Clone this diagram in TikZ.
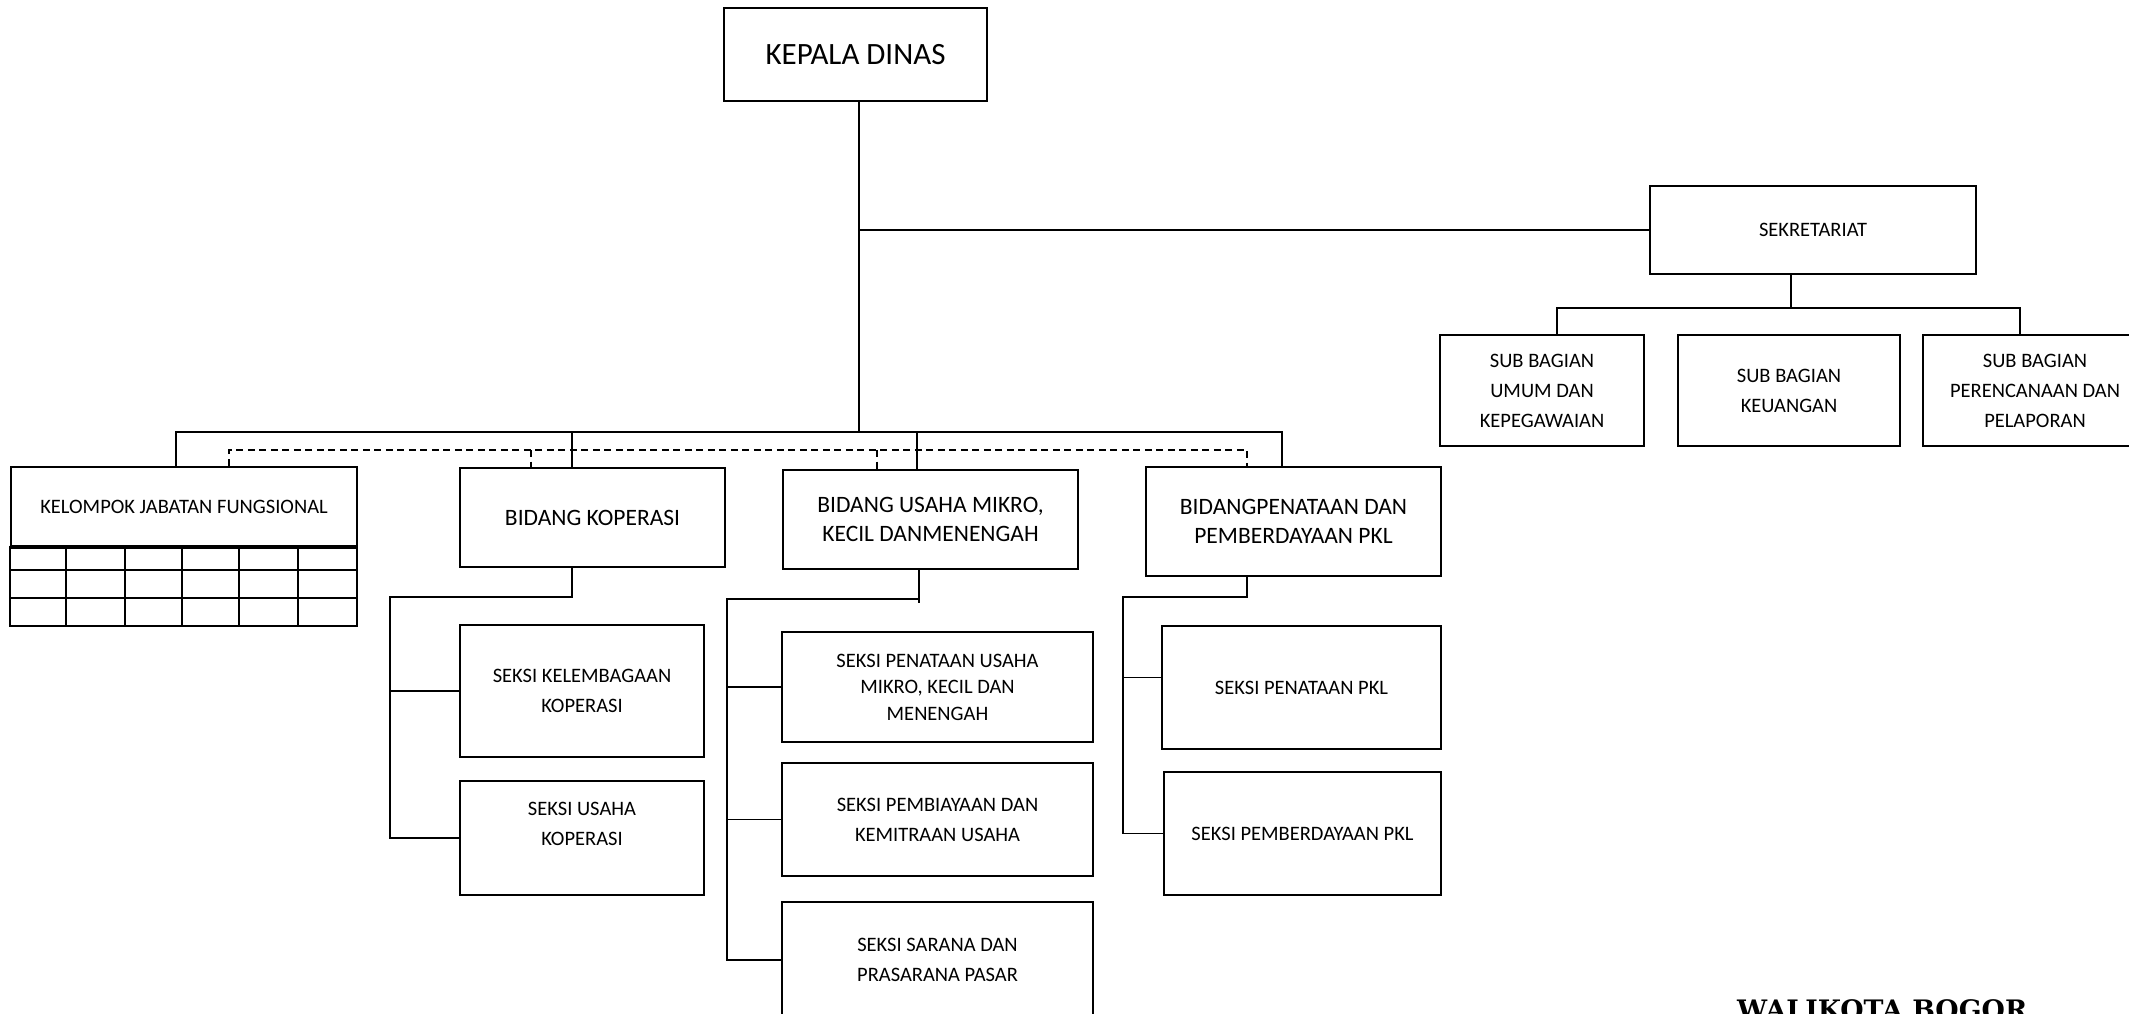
\documentclass[tikz,border=0pt]{standalone}
\usepackage{fontspec}
\setmainfont{Carlito}
\newfontfamily\walifont{DejaVu Serif}
\newcommand\fkd{\fontsize{31}{37}\selectfont}
\newcommand\fbid{\fontsize{23.5}{29}\selectfont}
\newcommand\fsek{\fontsize{20.5}{30}\selectfont}
\begin{document}
\begin{tikzpicture}[x=1pt,y=-1pt,
  box/.style={draw, line width=2.6pt, inner sep=0pt, align=center, font=\fsek},
  conn/.style={line width=1.8pt},
  dconn/.style={line width=2pt, dash pattern=on 7pt off 4.5pt},
  grid/.style={line width=1.8pt}]
\clip (0,0) rectangle (2129,1014);
\fill[white] (0,0) rectangle (2129,1014);

% top level
\node[box, font=\fkd, minimum width=263, minimum height=93] (kd) at (855.5,54.5) {KEPALA DINAS};
\node[box, minimum width=326, minimum height=88] (sek) at (1813,230) {SEKRETARIAT};
\node[box, minimum width=204, minimum height=111] (sbu) at (1542,390.5) {SUB BAGIAN\\UMUM DAN\\KEPEGAWAIAN};
\node[box, minimum width=222, minimum height=111] (sbk) at (1789,390.5) {SUB BAGIAN\\KEUANGAN};
\node[box, minimum width=224, minimum height=111] (sbp) at (2035,390.5) {SUB BAGIAN\\PERENCANAAN DAN\\PELAPORAN};

% second level
\node[box, minimum width=346, minimum height=79] (kjf) at (184,506.5) {KELOMPOK JABATAN FUNGSIONAL};
\node[box, font=\fbid, minimum width=265, minimum height=99] (bk) at (592.5,517.5) {BIDANG KOPERASI};
\node[box, font=\fbid, minimum width=295, minimum height=99] (bu) at (930.5,519.5) {BIDANG USAHA MIKRO,\\KECIL DANMENENGAH};
\node[box, font=\fbid, minimum width=295, minimum height=109] (bp) at (1293.5,521.5) {BIDANGPENATAAN DAN\\PEMBERDAYAAN PKL};

% seksi
\node[box, minimum width=244, minimum height=132] (skk) at (582,691) {SEKSI KELEMBAGAAN\\KOPERASI};
\node[box, minimum width=244, minimum height=114] (suk) at (582,838) {};
\node[align=center, font=\fsek, inner sep=0pt] (sukt) at (582,824) {SEKSI USAHA\\KOPERASI};
\node[box, font=\fontsize{20.5}{26.5}\selectfont, minimum width=311, minimum height=110] (spu) at (937.5,687) {SEKSI PENATAAN USAHA\\MIKRO, KECIL DAN\\MENENGAH};
\node[box, minimum width=311, minimum height=113] (spb) at (937.5,819.5) {SEKSI PEMBIAYAAN DAN\\KEMITRAAN USAHA};
\node[box, minimum width=311, minimum height=116] (ssp) at (937.5,960) {SEKSI SARANA DAN\\PRASARANA PASAR};
\node[box, minimum width=279, minimum height=123] (spk) at (1301.5,687.5) {SEKSI PENATAAN PKL};
\node[box, minimum width=277, minimum height=123] (spe) at (1302.5,833.5) {SEKSI PEMBERDAYAAN PKL};

% KJF table
\draw[grid] (kjf.south west) rectangle (357,626);
\foreach \yy in {570,598} \draw[grid] (11,\yy) -- (357,\yy);
\foreach \xx in {66,125,182,239,298} \draw[grid] (\xx,546) -- (\xx,626);
\draw[line width=4pt] (kjf.south west) -- (kjf.south east);

% spine
\coordinate (spine) at (859,432);
\draw[conn] (kd.south -| spine) -- (spine);
\draw[conn] (sek.west -| spine) -- (sek.west);

% solid bus
\coordinate (busL) at (176,432);
\coordinate (busR) at (1282,432);
\draw[conn] (kjf.north -| busL) -- (busL) -- (busR) -- (bp.north -| busR);
\draw[conn] (bk.north -| 572,0) -- (572,432);
\draw[conn] (bu.north -| 917,0) -- (917,432);

% dashed bus
\coordinate (dL) at (229,450);
\coordinate (dR) at (1247,450);
\draw[dconn] (kjf.north -| dL) -- (dL) -- (dR) -- (bp.north -| dR);
\draw[dconn] (531,450) -- (bk.north -| 531,0);
\draw[dconn] (877,450) -- (bu.north -| 877,0);

% bidang koperasi children
\draw[conn] (bk.south -| 572,0) -- (572,597) -- (390,597) -- (suk.west -| 390,0) -- (suk.west);
\draw[conn] (skk.west -| 390,0) -- (skk.west);

% bidang usaha children
\draw[conn] (bu.south -| 919,0) -- (919,603);
\draw[conn] (919,599) -- (727,599) -- (ssp.west -| 727,0) -- (ssp.west);
\draw[conn] (spu.west -| 727,0) -- (spu.west);
\draw[conn] (spb.west -| 727,0) -- (spb.west);

% bidang PKL children
\coordinate (spkin) at ([yshift=10pt]spk.west);
\draw[conn] (bp.south -| 1247,0) -- (1247,597) -- (1123,597) -- (spe.west -| 1123,0) -- (spe.west);
\draw[conn] (spkin -| 1123,0) -- (spkin);

% sekretariat children
\draw[conn] (sek.south -| 1791,0) -- (1791,308);
\draw[conn] (sbu.north -| 1557,0) -- (1557,308) -- (2020,308) -- (sbp.north -| 2020,0);

% signature
\node[font=\walifont\bfseries\fontsize{26.8}{30}\selectfont, anchor=base west, inner sep=0pt] (wali) at (1737,1019.5) {WALIKOTA BOGOR,};
\end{tikzpicture}
\end{document}
